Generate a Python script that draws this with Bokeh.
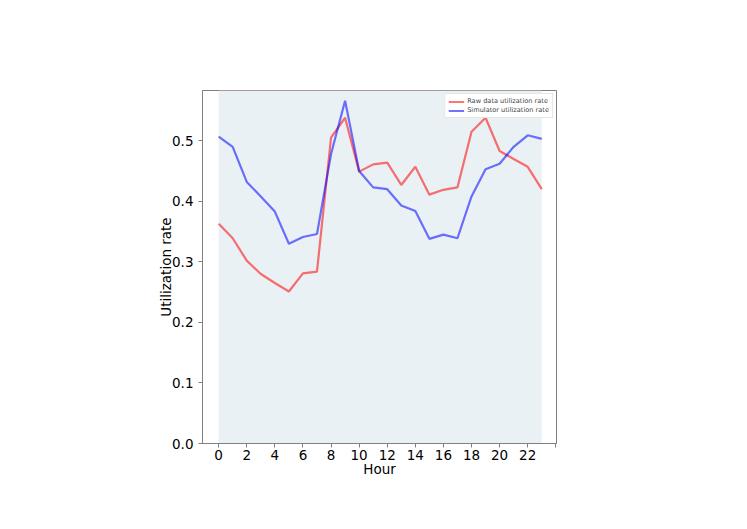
from bokeh.plotting import figure
from bokeh.models import BoxAnnotation, Range1d, FixedTicker, Legend, LegendItem
from bokeh.embed import file_html
from bokeh.resources import INLINE

hours = list(range(24))
raw_rate = [0.363, 0.339, 0.302, 0.280, 0.265, 0.251, 0.281, 0.284, 0.505, 0.538,
            0.449, 0.461, 0.464, 0.427, 0.457, 0.411, 0.419, 0.423, 0.515, 0.538,
            0.483, 0.470, 0.457, 0.420]
sim_rate = [0.507, 0.490, 0.432, 0.408, 0.383, 0.330, 0.341, 0.346, 0.478, 0.566,
            0.450, 0.423, 0.420, 0.393, 0.384, 0.338, 0.345, 0.339, 0.408, 0.453,
            0.462, 0.490, 0.509, 0.503]
x_ticks = [0, 2, 4, 6, 8, 10, 12, 14, 16, 18, 20, 22, 24]
y_ticks = [0.0, 0.1, 0.2, 0.3, 0.4, 0.5]

W, H = 730, 505
p = figure(width=W, height=H, output_backend="svg", toolbar_location=None,
           x_range=Range1d(-1.15, 24.05), y_range=Range1d(0, 0.583),
           min_border_left=202, min_border_right=174, min_border_top=90, min_border_bottom=62)
p.background_fill_color = "white"
p.border_fill_color = "white"
p.outline_line_color = "#808080"
p.xgrid.visible = False
p.ygrid.visible = False

p.add_layout(BoxAnnotation(left=hours[0], right=hours[-1], fill_color="#e9f1f5",
                           fill_alpha=1.0, line_color=None, level="underlay"))

r1 = p.line(hours, raw_rate, line_color="red", line_alpha=0.55, line_width=2.2)
r2 = p.line(hours, sim_rate, line_color="blue", line_alpha=0.55, line_width=2.2)

legend = Legend(items=[LegendItem(label="Raw data utilization rate", renderers=[r1]),
                       LegendItem(label="Simulator utilization rate", renderers=[r2])],
                location="top_right", label_text_font="DejaVu Sans", label_text_font_size="6.6px",
                glyph_width=16, glyph_height=7, label_height=7, spacing=1, padding=3,
                margin=3, border_line_color="#cccccc", background_fill_alpha=1.0,
                label_standoff=3)
p.add_layout(legend)

for ax in (p.xaxis[0], p.yaxis[0]):
    ax.axis_line_color = "#808080"
    ax.major_tick_line_color = "#808080"
    ax.major_tick_out = 4
    ax.major_tick_in = 0
    ax.minor_tick_line_color = None
    ax.major_label_text_font = "DejaVu Sans"
    ax.major_label_text_font_size = "13.5px"
    ax.major_label_text_color = "black"
    ax.axis_label_text_font = "DejaVu Sans"
    ax.axis_label_text_font_size = "13.5px"
    ax.axis_label_text_font_style = "normal"
    ax.axis_label_text_color = "black"

p.xaxis.ticker = FixedTicker(ticks=x_ticks)
p.xaxis.major_label_overrides = {24: ""}
p.xaxis.major_label_standoff = 2
p.yaxis.ticker = FixedTicker(ticks=y_ticks)
p.yaxis.major_label_overrides = {v: f"{v:.1f}" for v in y_ticks}
p.xaxis.axis_label = "Hour"
p.yaxis.axis_label = "Utilization rate"
p.xaxis.axis_label_standoff = -2
p.yaxis.axis_label_standoff = -5

open("out.html", "w").write(file_html(p, INLINE))
